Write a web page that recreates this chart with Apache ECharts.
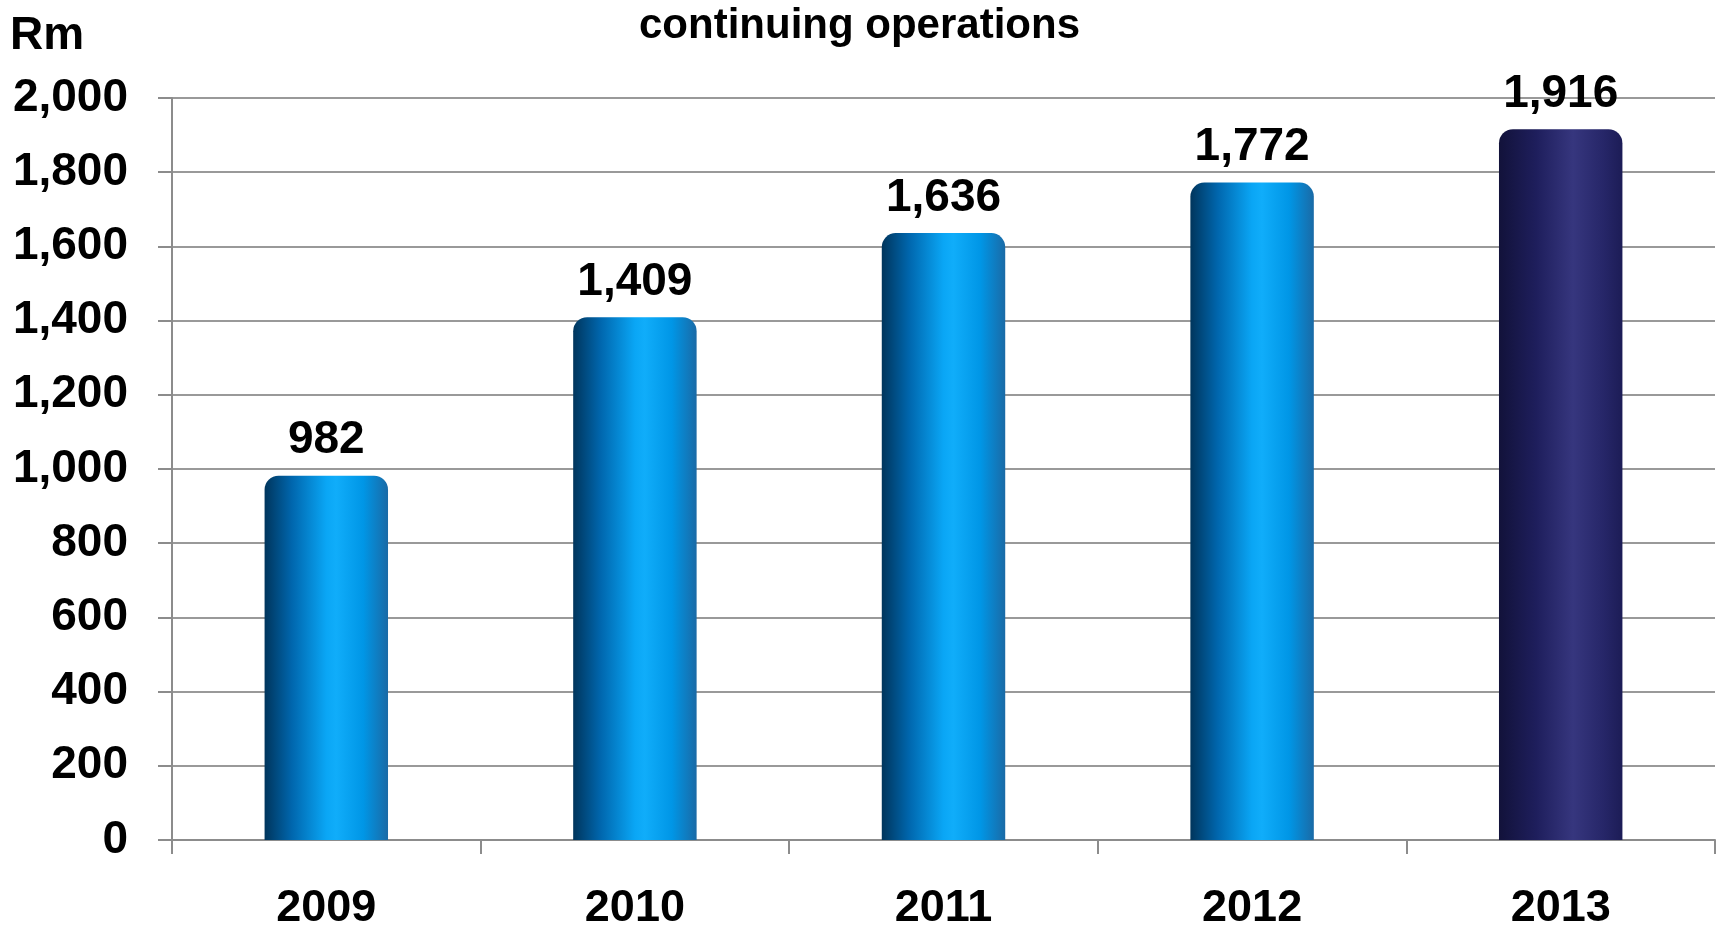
<!DOCTYPE html>
<html>
<head>
<meta charset="utf-8">
<script src="https://cdn.jsdelivr.net/npm/echarts@6/dist/echarts.min.js"></script>
<style>
  html, body { margin: 0; padding: 0; background: #fff; }
  #chart { width: 1719px; height: 931px; }
</style>
</head>
<body>
<div id="chart"></div>
<script>
const years = ['2009', '2010', '2011', '2012', '2013'];
const profit = [982, 1409, 1636, 1772, 1916];
const yTicks = [0, 200, 400, 600, 800, 1000, 1200, 1400, 1600, 1800, 2000];
const highlightYear = '2013';

const FONT = "'Liberation Sans', Arial, sans-serif";

const blueBar = new echarts.graphic.LinearGradient(0, 0, 1, 0, [
  { offset: 0, color: '#00355c' },
  { offset: 0.22, color: '#0066ad' },
  { offset: 0.5, color: '#0aa6f5' },
  { offset: 0.58, color: '#10adfa' },
  { offset: 0.8, color: '#0096e6' },
  { offset: 1, color: '#1a6aa6' },
]);
const navyBar = new echarts.graphic.LinearGradient(0, 0, 1, 0, [
  { offset: 0, color: '#12123a' },
  { offset: 0.3, color: '#1e1e5c' },
  { offset: 0.6, color: '#36367e' },
  { offset: 0.85, color: '#262668' },
  { offset: 1, color: '#1c1c56' },
]);

const chart = echarts.init(document.getElementById('chart'));

const option = {
  animation: false,
  backgroundColor: '#fff',
  title: [
    {
      text: 'continuing operations',
      left: 'center',
      top: 5,
      padding: 0,
      textStyle: { fontFamily: FONT, fontWeight: 'bold', fontSize: 42, color: '#000' },
    },
    {
      text: 'Rm',
      left: 10,
      top: 13,
      padding: 0,
      textStyle: { fontFamily: FONT, fontWeight: 'bold', fontSize: 46, color: '#000' },
    },
  ],
  grid: { left: 172, right: 4, top: 98, bottom: 91, containLabel: false },
  xAxis: {
    type: 'category',
    data: years,
    axisLine: { lineStyle: { color: '#8c8c8c', width: 2 } },
    axisTick: { show: true, length: 14, lineStyle: { color: '#8c8c8c', width: 2 } },
    axisLabel: {
      color: '#000',
      fontFamily: FONT,
      fontWeight: 'bold',
      fontSize: 45,
      margin: 46,
    },
  },
  yAxis: {
    type: 'value',
    min: yTicks[0],
    max: yTicks[yTicks.length - 1],
    interval: 200,
    axisLine: { show: true, lineStyle: { color: '#8c8c8c', width: 2 } },
    axisTick: { show: true, length: 14, lineStyle: { color: '#8c8c8c', width: 2 } },
    splitLine: { lineStyle: { color: '#999999', width: 2 } },
    axisLabel: {
      color: '#000',
      fontFamily: FONT,
      fontWeight: 'bold',
      fontSize: 46,
      margin: 44,
      formatter: (v) => v.toLocaleString('en-US'),
    },
  },
  series: [
    {
      type: 'bar',
      barWidth: '40%',
      data: profit.map((v, i) => ({
        value: v,
        itemStyle: {
          color: years[i] === highlightYear ? navyBar : blueBar,
          borderRadius: [14, 14, 0, 0],
        },
      })),
      label: {
        show: true,
        position: 'top',
        distance: 12,
        color: '#000',
        fontFamily: FONT,
        fontWeight: 'bold',
        fontSize: 46,
        formatter: (p) => p.value.toLocaleString('en-US'),
      },
    },
  ],
};

chart.setOption(option);
window.addEventListener('resize', () => chart.resize());
</script>
</body>
</html>
